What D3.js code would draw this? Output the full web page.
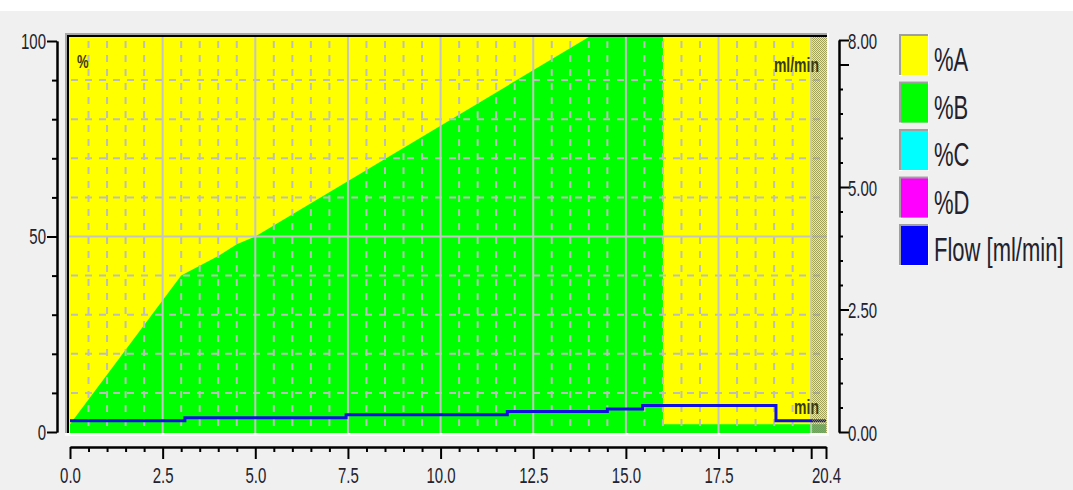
<!DOCTYPE html>
<html lang="en">
<head>
  <meta charset="UTF-8" />
  <title>Gradient profile</title>
  <script src="https://d3js.org/d3.v7.min.js"></script>
  <style>
    body { margin: 0; background: #f0f0f0; }
    svg { display: block; }
    text { font-family: "Liberation Sans", Arial, sans-serif; fill: #22222e; }
  </style>
</head>
<body>
<svg id="chart"></svg>

<script>
const width = 1073, height = 490;

// Data
const pctTimes = [0, 3, 3.5, 4, 4.5, 5, 14, 16, 16, 20.4];
const pctB = [2, 40, 42.5, 45, 48, 50, 100, 100, 2, 2];
const flowTimes = [0, 3.1, 7.45, 11.8, 14.5, 15.45, 19.05, 20.4];
const flowValues = [0.23, 0.29, 0.35, 0.42, 0.47, 0.54, 0.23, 0.23];
const xTickLabels = ["0.0", "2.5", "5.0", "7.5", "10.0", "12.5", "15.0", "17.5", "20.4"];
const xMajor = [0, 2.5, 5, 7.5, 10, 12.5, 15, 17.5, 20, 20.4];
const yLeftTicks = [0, 50, 100];
const yRightTicks = [0, 2.5, 5, 8];
const yRightLabels = ["0.00", "2.50", "5.00", "8.00"];
const legendLabels = ["%A", "%B", "%C", "%D", "Flow [ml/min]"];
const legendColors = ["#ffff00", "#00ff00", "#00ffff", "#ff00ff", "#0000ff"];

const svg = d3.select("#chart")
  .attr("width", width)
  .attr("height", height);

// plot box
const plotL = 69, plotT = 37, plotR = 827, plotB = 433;

const x = d3.scaleLinear().domain([0, 20.4]).range([70, 826]);
const yL = d3.scaleLinear().domain([0, 100]).range([432, 41]);
const yR = d3.scaleLinear().domain([0, 8]).range([432, 40]);

svg.append("rect").attr("width", width).attr("height", height).attr("fill", "#f0f0f0");
svg.append("rect").attr("width", width).attr("height", 11).attr("fill", "#ffffff");

// sunken frame
svg.append("rect").attr("x", 65).attr("y", 33).attr("width", plotR + 2 - 65).attr("height", plotB + 3 - 33).attr("fill", "#fbfbfb");
svg.append("rect").attr("x", 65).attr("y", 33).attr("width", plotR - 65).attr("height", plotB - 33).attr("fill", "#a8a8a8");
svg.append("rect").attr("x", 67).attr("y", 35).attr("width", plotR - 67).attr("height", plotB - 35).attr("fill", "#000");
svg.append("rect").attr("x", plotL).attr("y", plotT).attr("width", plotR - plotL).attr("height", plotB - plotT).attr("fill", "#ffff00");

const plot = svg.append("g");

// %B area
const bData = pctTimes.map((t, i) => ({ t: t, v: pctB[i] }));
plot.append("path")
  .datum(bData)
  .attr("d", d3.area()
    .x(d => x(d.t))
    .y0(plotB)
    .y1(d => d.v >= 100 ? plotT : yL(d.v)))
  .attr("fill", "#00ff00");

// grid
const minorX = d3.range(0.5, 20, 0.5).filter(v => v % 2.5 !== 0);
const minorY = d3.range(10, 100, 10).filter(v => v !== 50);

plot.selectAll(".gx-dash").data(minorX).enter().append("line")
  .attr("x1", d => x(d)).attr("x2", d => x(d))
  .attr("y1", plotT).attr("y2", plotB)
  .attr("stroke", "#bdbdbd").attr("stroke-width", 2)
  .attr("stroke-dasharray", "7,7").attr("stroke-dashoffset", -4);

plot.selectAll(".gy-dash").data(minorY).enter().append("line")
  .attr("y1", d => yL(d)).attr("y2", d => yL(d))
  .attr("x1", plotL).attr("x2", plotR)
  .attr("stroke", "#bdbdbd").attr("stroke-width", 2)
  .attr("stroke-dasharray", "7,7").attr("stroke-dashoffset", -2);

plot.selectAll(".gx").data(xMajor.filter(v => v > 0 && v <= 20)).enter().append("line")
  .attr("x1", d => x(d)).attr("x2", d => x(d))
  .attr("y1", plotT).attr("y2", plotB)
  .attr("stroke", "#c4c4c4").attr("stroke-width", 2);

plot.append("line")
  .attr("y1", yL(50)).attr("y2", yL(50))
  .attr("x1", plotL).attr("x2", plotR)
  .attr("stroke", "#c4c4c4").attr("stroke-width", 2);

// flow line
const flowData = flowTimes.map((t, i) => ({ t: t, v: flowValues[i] }));
plot.append("path")
  .datum(flowData)
  .attr("d", d3.line().x(d => x(d.t)).y(d => yR(d.v)).curve(d3.curveStepAfter))
  .attr("fill", "none")
  .attr("stroke", "#1010e0")
  .attr("stroke-width", 3);

// hatched strip 20.0 - 20.4
const defs = svg.append("defs");
const pat = defs.append("pattern").attr("id", "dots")
  .attr("width", 2).attr("height", 2).attr("patternUnits", "userSpaceOnUse");
pat.append("rect").attr("x", 0).attr("y", 0).attr("width", 1).attr("height", 1).attr("fill", "#8a8a70");
pat.append("rect").attr("x", 1).attr("y", 1).attr("width", 1).attr("height", 1).attr("fill", "#8a8a70");
plot.append("rect")
  .attr("x", x(20) + 1).attr("y", plotT)
  .attr("width", plotR - x(20) - 1).attr("height", plotB - plotT)
  .attr("fill", "url(#dots)").attr("opacity", 0.8);

// in-plot unit labels
function stretched(g, px, py, str, size, anchor, weight) {
  return g.append("text")
    .attr("transform", `translate(${px},${py}) scale(1,1.45)`)
    .attr("text-anchor", anchor || "start")
    .style("font-size", size + "px")
    .style("font-weight", weight || "normal")
    .text(str);
}
stretched(svg, 77, 68, "%", 13, "start", "bold").style("fill", "#3a3a10");
stretched(svg, 819, 72, "ml/min", 14, "end", "bold").style("fill", "#3a3a10");
stretched(svg, 819, 414, "min", 14, "end", "bold").style("fill", "#3a3a10");

// x axis
const xAxisMinor = d3.axisBottom(x)
  .tickValues(d3.range(0, 20.01, 0.5).filter(v => v % 2.5 !== 0))
  .tickSize(5).tickSizeOuter(0).tickFormat("");
const xAxisMajor = d3.axisBottom(x)
  .tickValues(xMajor)
  .tickSize(12).tickSizeOuter(0)
  .tickFormat(d => d === 20 ? "" : xTickLabels[xMajor.indexOf(d) < 8 ? xMajor.indexOf(d) : 8]);

const gxMinor = svg.append("g").attr("transform", "translate(0,447)").call(xAxisMinor);
const gxMajor = svg.append("g").attr("transform", "translate(0,447)").call(xAxisMajor);
[gxMinor, gxMajor].forEach(g => {
  g.select(".domain").attr("stroke", "#000").attr("stroke-width", 2);
  g.selectAll(".tick line").attr("stroke", "#000").attr("stroke-width", 2);
});
gxMajor.selectAll(".tick text")
  .attr("y", null).attr("dy", null)
  .attr("transform", "translate(0,36) scale(1,1.5)")
  .style("font-size", "15px").attr("fill", "#22222e");

// left axis
const yAxisMinor = d3.axisLeft(yL)
  .tickValues(d3.range(10, 100, 10).filter(v => v !== 50))
  .tickSize(5).tickSizeOuter(0).tickFormat("");
const yAxisMajor = d3.axisLeft(yL)
  .tickValues(yLeftTicks).tickSize(10).tickSizeOuter(0).tickFormat(d3.format("d"));
const gyMinor = svg.append("g").attr("transform", "translate(57,0)").call(yAxisMinor);
const gyMajor = svg.append("g").attr("transform", "translate(57,0)").call(yAxisMajor);
[gyMinor, gyMajor].forEach(g => {
  g.select(".domain").attr("stroke", "#000").attr("stroke-width", 2);
  g.selectAll(".tick line").attr("stroke", "#000").attr("stroke-width", 2);
});
gyMajor.selectAll(".tick text")
  .attr("x", null).attr("dy", null)
  .attr("transform", "translate(-11,7) scale(1,1.5)")
  .style("font-size", "15px").attr("fill", "#22222e");

// right axis
const yRAxisMinor = d3.axisRight(yR)
  .tickValues(d3.range(0.5, 8, 0.5).filter(v => v % 2.5 !== 0))
  .tickSize(4).tickSizeOuter(0).tickFormat("");
const yRAxisMajor = d3.axisRight(yR)
  .tickValues([0, 2.5, 5, 7.5, 8]).tickSize(10).tickSizeOuter(0)
  .tickFormat(d => { const i = yRightTicks.indexOf(d); return i < 0 ? "" : yRightLabels[i]; });
const grMinor = svg.append("g").attr("transform", "translate(839,0)").call(yRAxisMinor);
const grMajor = svg.append("g").attr("transform", "translate(839,0)").call(yRAxisMajor);
[grMinor, grMajor].forEach(g => {
  g.select(".domain").attr("stroke", "#000").attr("stroke-width", 2);
  g.selectAll(".tick line").attr("stroke", "#000").attr("stroke-width", 2);
});
grMajor.selectAll(".tick text")
  .attr("x", null).attr("dy", null)
  .attr("transform", "translate(9,8) scale(1,1.5)")
  .style("font-size", "15px").attr("fill", "#22222e");

// legend
const legend = svg.append("g").attr("transform", "translate(900,35)");
const items = legend.selectAll("g").data(legendLabels).enter().append("g")
  .attr("transform", (d, i) => `translate(0,${i * 47.5})`);
items.append("rect").attr("x", -1).attr("y", -1).attr("width", 30).attr("height", 42).attr("fill", "#fdfdfd");
items.append("rect").attr("x", -1).attr("y", -1).attr("width", 29).attr("height", 41).attr("fill", "#a0a0a0");
items.append("rect").attr("x", 1).attr("y", 1).attr("width", 27).attr("height", 39)
  .attr("fill", (d, i) => legendColors[i]);
items.append("text")
  .attr("transform", "translate(34,36) scale(1,1.5)")
  .style("font-size", "22px")
  .attr("fill", "#111")
  .text(d => d);
</script>
</body>
</html>
